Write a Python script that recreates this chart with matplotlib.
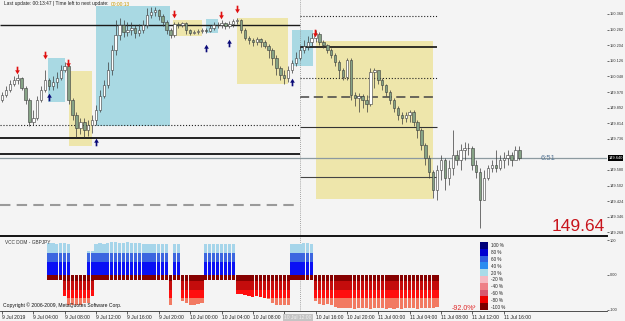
import matplotlib
matplotlib.use('Agg')
import matplotlib.pyplot as plt
import numpy as np
from matplotlib.path import Path
from matplotlib.patches import Rectangle
import matplotlib.transforms as mtrans

plt.rcParams['font.family'] = ['Liberation Sans', 'DejaVu Sans']

# ---------------- data ----------------
first_open = 149.93
close = [149.955, 149.98, 150.01, 150.03, 150.04, 149.99, 149.93, 149.82, 149.84, 149.93,
         149.98, 150.03, 150.00, 150.02, 150.04, 150.08, 150.10, 149.93, 149.855, 149.79,
         149.82, 149.78, 149.805, 149.83, 149.88, 149.95, 150.005, 150.08, 150.18, 150.255,
         150.305, 150.27, 150.28, 150.29, 150.265, 150.28, 150.305, 150.355, 150.37, 150.38,
         150.35, 150.32, 150.28, 150.255, 150.31, 150.305, 150.315, 150.28, 150.265, 150.27,
         150.275, 150.28, 150.275, 150.29, 150.305, 150.305, 150.315, 150.30, 150.31, 150.325,
         150.33, 150.28, 150.24, 150.23, 150.22, 150.235, 150.22, 150.20, 150.18, 150.14,
         150.09, 150.055, 150.04, 150.08, 150.115, 150.14, 150.18, 150.20, 150.22, 150.24,
         150.26, 150.22, 150.205, 150.18, 150.155, 150.12, 150.08, 150.045, 150.13, 149.955,
         149.94, 149.95, 149.93, 149.91, 150.07, 150.08, 150.03, 150.005, 149.97, 149.93,
         149.89, 149.855, 149.84, 149.855, 149.87, 149.82, 149.78, 149.705, 149.64, 149.57,
         149.48, 149.58, 149.63, 149.54, 149.59, 149.655, 149.63, 149.68, 149.69, 149.69,
         149.605, 149.57, 149.43, 149.54, 149.59, 149.605, 149.59, 149.63, 149.64, 149.655,
         149.63, 149.68, 149.64]
high = [149.97, 150.00, 150.03, 150.05, 150.06, 150.045, 150.00, 149.94, 149.88, 149.95,
        150.00, 150.08, 150.04, 150.05, 150.07, 150.105, 150.12, 150.11, 149.94, 149.87,
        149.84, 149.84, 149.83, 149.855, 149.905, 149.98, 150.03, 150.12, 150.205, 150.33,
        150.34, 150.33, 150.32, 150.32, 150.305, 150.31, 150.33, 150.39, 150.395, 150.395,
        150.385, 150.36, 150.33, 150.29, 150.32, 150.32, 150.32, 150.32, 150.285, 150.28,
        150.285, 150.29, 150.29, 150.305, 150.32, 150.32, 150.33, 150.32, 150.325, 150.335,
        150.34, 150.335, 150.29, 150.25, 150.24, 150.245, 150.24, 150.23, 150.21, 150.19,
        150.155, 150.10, 150.08, 150.10, 150.13, 150.17, 150.205, 150.23, 150.25, 150.265,
        150.28, 150.27, 150.23, 150.21, 150.19, 150.165, 150.13, 150.09, 150.14, 150.14,
        149.97, 149.965, 149.96, 149.955, 150.09, 150.09, 150.07, 150.04, 150.01, 149.98,
        149.94, 149.90, 149.87, 149.87, 149.88, 149.88, 149.83, 149.79, 149.715, 149.655,
        149.58, 149.605, 149.655, 149.64, 149.63, 149.78, 149.68, 149.71, 149.72, 149.715,
        149.70, 149.63, 149.59, 149.58, 149.605, 149.63, 149.68, 149.655, 149.67, 149.68,
        149.67, 149.70, 149.70]
low = [149.92, 149.945, 149.97, 150.00, 150.01, 149.98, 149.91, 149.80, 149.805, 149.83,
       149.92, 149.97, 149.98, 149.98, 149.99, 150.03, 150.07, 149.91, 149.83, 149.745,
       149.76, 149.745, 149.75, 149.765, 149.805, 149.87, 149.94, 149.99, 150.055, 150.155,
       150.23, 150.245, 150.25, 150.255, 150.24, 150.25, 150.265, 150.29, 150.34, 150.35,
       150.33, 150.30, 150.26, 150.24, 150.245, 150.29, 150.295, 150.26, 150.255, 150.26,
       150.26, 150.265, 150.265, 150.27, 150.28, 150.29, 150.29, 150.285, 150.29, 150.295,
       150.31, 150.265, 150.23, 150.21, 150.20, 150.205, 150.195, 150.19, 150.14, 150.105,
       150.055, 150.03, 150.01, 150.02, 150.065, 150.10, 150.13, 150.165, 150.18, 150.20,
       150.22, 150.205, 150.19, 150.165, 150.14, 150.10, 150.04, 150.03, 150.03, 149.93,
       149.90, 149.87, 149.89, 149.87, 149.90, 149.99, 150.01, 149.98, 149.95, 149.91,
       149.87, 149.83, 149.81, 149.82, 149.82, 149.80, 149.74, 149.68, 149.605, 149.54,
       149.44, 149.43, 149.53, 149.48, 149.505, 149.555, 149.605, 149.58, 149.63, 149.655,
       149.58, 149.54, 149.29, 149.43, 149.53, 149.57, 149.57, 149.58, 149.59, 149.605,
       149.60, 149.64, 149.63]

# indicator (per bar): buy pressure (+) and sell pressure (-) in %
ind_pos = [None, None, None, None, None, None, None, None, None, None, None, None,
           92, 92, 90, 92, 92, 88, 0, 0, 0, 0, 70, 70, 88,
           92, 90, 92, 93, 93, 92, 92, 93, 92, 92, 91, 90, 90, 90, 90, 89, 89, 88,
           0, 88, 88, 0, 0, 0, 0, 0, 0,
           90, 90, 90, 90, 89, 89, 88, 88,
           0, 0, 0, 0, 0, 0, 0, 0, 0, 0, 0, 0, 0, 0,
           88, 89, 90, 92, 92, 90,
           0, 0, 0, 0, 0, 0, 0, 0, 0, 0, 0, 0, 0, 0, 0, 0,
           0, 0, 0, 0, 0, 0, 0, 0, 0, 0, 0, 0, 0, 0, 0, 0,
           None, None, None, None, None, None, None, None, None, None, None,
           None, None, None, None, None, None, None, None, None, None]
ind_neg = [None, None, None, None, None, None, None, None, None, None, None, None,
           -15, -15, -15, -15, -60, -85, -85, -86, -85, -80, -80, -60, -15,
           -15, -15, -15, -15, -15, -15, -15, -15, -15, -15, -15, -15, -15, -15, -15, -15, -15, -15,
           -85, -15, -15, -75, -80, -85, -85, -82, -80,
           -15, -15, -15, -15, -15, -15, -15, -15,
           -55, -55, -58, -60, -62, -60, -63, -65, -70, -80, -85, -86, -85, -85,
           -15, -15, -15, -15, -15, -15,
           -75, -82, -85, -82, -85,
           -92, -93, -95, -94, -95, -96, -95, -94, -95, -96, -95, -95, -94, -96,
           -95, -96, -95, -96, -95, -94, -95, -96, -95, -95, -94, -95, -92,
           None, None, None, None, None, None, None, None, None, None, None,
           None, None, None, None, None, None, None, None, None, None]

# zones: start bar, end bar, top price, bottom price
blue_zone_start = [11.7, 24.0, 52.0, 74.0]
blue_zone_end = [16.1, 42.9, 55.1, 79.3]
blue_zone_top = [150.14, 150.40, 150.335, 150.28]
blue_zone_bottom = [149.92, 149.80, 150.265, 150.10]
yellow_zone_start = [17.1, 43.6, 60.0, 80.1]
yellow_zone_end = [23.0, 51.0, 73.0, 110.0]
yellow_zone_top = [150.075, 150.33, 150.34, 150.225]
yellow_zone_bottom = [149.70, 150.25, 150.01, 149.435]

down_arrow_bar = [3.8, 11.0, 16.8, 43.9, 55.9, 60.0, 79.8]
down_arrow_price = [150.08, 150.155, 150.115, 150.36, 150.355, 150.385, 150.265]
up_arrow_bar = [12.0, 24.0, 52.0, 57.9, 74.0]
up_arrow_price = [149.945, 149.72, 150.19, 150.215, 150.02]

left_levels = [150.305, 149.805, 149.74, 149.66, 149.405]
right_levels = [150.35, 150.195, 150.04, 149.945, 149.795, 149.545]
level_split_bar = 76
right_level_end = 111
current_price = 149.64

price_ticks = [150.360, 150.282, 150.204, 150.126, 150.048, 149.970, 149.892, 149.814,
               149.736, 149.580, 149.502, 149.424, 149.346, 149.268]
ind_ticks = [100, 0, -100]
ind_tick_labels = ['100', '0.00', '-100']
time_tick_bars = [0, 8, 16, 24, 32, 40, 48, 56, 64, 72, 80, 88, 96, 104, 112, 120, 128]
time_tick_labels = ['9 Jul 2019', '9 Jul 04:00', '9 Jul 08:00', '9 Jul 12:00', '9 Jul 16:00',
                    '9 Jul 20:00', '10 Jul 00:00', '10 Jul 04:00', '10 Jul 08:00', '10 Jul 12:00',
                    '10 Jul 16:00', '10 Jul 20:00', '11 Jul 00:00', '11 Jul 04:00',
                    '11 Jul 08:00', '11 Jul 12:00', '11 Jul 16:00']
legend_labels = ['100 %', '80 %', '60 %', '40 %', '20 %', '-20 %', '-40 %', '-60 %', '-80 %', '-100 %']
legend_colors = ['#00007a', '#0000d0', '#2f5fe0', '#2a8cf0', '#a9dbe8',
                 '#f6b8c0', '#ee7f86', '#d85870', '#ee0000', '#7a0000']

# ---------------- figure ----------------
W, H = 625, 321
BG = '#f4f4f4'
fig = plt.figure(figsize=(W / 100, H / 100), dpi=100, facecolor=BG)

def fx(px):
    return px / W

def fy(py):
    return 1 - py / H

ax = fig.add_axes([0, fy(236), fx(607), 236 / H], facecolor=BG)
ax2 = fig.add_axes([0, fy(311), fx(607), 74 / H], facecolor=BG)

n = len(close)
xs = np.arange(n)
close_a = np.array(close)
opens = np.concatenate([[first_open], close_a[:-1]])
high_a = np.array(high)
low_a = np.array(low)

xmin, xmax = -0.51, 154.35
for a in (ax, ax2):
    a.set_xlim(xmin, xmax)
    for s in ('top', 'left', 'right'):
        a.spines[s].set_visible(False)
ax.set_ylim(149.25, 150.43)
ax2.set_ylim(-102.9, 108.6)
ax.spines['bottom'].set_color('#111111')
ax.spines['bottom'].set_linewidth(1.4)
ax2.spines['bottom'].set_color('#333333')
ax2.spines['bottom'].set_linewidth(0.6)

# zones
for s, e, t, b in zip(blue_zone_start, blue_zone_end, blue_zone_top, blue_zone_bottom):
    ax.add_patch(Rectangle((s, b), e - s, t - b, facecolor='#a9d9e3', edgecolor='none', zorder=1))
for s, e, t, b in zip(yellow_zone_start, yellow_zone_end, yellow_zone_top, yellow_zone_bottom):
    ax.add_patch(Rectangle((s, b), e - s, t - b, facecolor='#eee6ab', edgecolor='none', zorder=1))

# levels
left_styles = [('-', '#1a1a1a', 1.0), (':', '#222222', 0.8), ('-', '#111111', 1.3),
               ('-', '#111111', 1.3), ((0, (5, 3)), '#9a9a9a', 1.5)]
for lv, (ls, c, lw) in zip(left_levels, left_styles):
    ax.hlines(lv, xmin, level_split_bar, colors=c, linestyles=ls, linewidth=lw, zorder=2)
right_styles = [(':', '#222222', 0.8), ('-', '#111111', 1.2), (':', '#222222', 0.8),
                ((0, (6, 3)), '#444444', 1.1), ('-', '#333333', 0.8), ('-', '#444444', 0.8)]
for lv, (ls, c, lw) in zip(right_levels, right_styles):
    ax.hlines(lv, level_split_bar, right_level_end, colors=c, linestyles=ls, linewidth=lw, zorder=2)
ax.axhline(current_price, color='#8c9aa0', lw=0.9, zorder=2)

# vertical separator
for a in (ax, ax2):
    a.axvline(level_split_bar, color='#8a8a8a', lw=0.6, ls=(0, (1, 1.5)), zorder=2)

# candles
ax.vlines(xs, low_a, high_a, colors='#3a3a3a', linewidth=0.5, zorder=3)
bull = close_a >= opens
body_b = np.minimum(opens, close_a)
body_h = np.maximum(np.abs(close_a - opens), 0.002)
ax.bar(xs[bull], body_h[bull], bottom=body_b[bull], width=0.62, color='white',
       edgecolor='#3a3a3a', linewidth=0.4, zorder=4)
ax.bar(xs[~bull], body_h[~bull], bottom=body_b[~bull], width=0.62, color='#86a386',
       edgecolor='#3a3a3a', linewidth=0.4, zorder=4)

# arrows
down_path = Path([(-0.22, 1.0), (0.22, 1.0), (0.22, 0.05), (0.62, 0.05), (0, -1.0),
                  (-0.62, 0.05), (-0.22, 0.05), (-0.22, 1.0)], closed=True)
up_path = Path([(x, -y) for x, y in down_path.vertices], closed=True)
ax.scatter(down_arrow_bar, down_arrow_price, marker=down_path, s=30, color='#e01010',
           linewidths=0, zorder=6)
ax.scatter(up_arrow_bar, up_arrow_price, marker=up_path, s=30, color='#0a0a78',
           linewidths=0, zorder=6)

# right price axis
ax.set_xticks([])
ax.yaxis.tick_right()
ax.set_yticks(price_ticks)
ax.set_yticklabels(['%.3f' % p for p in price_ticks])
ax.tick_params(axis='y', length=1.5, width=0.5, pad=0.5, labelsize=2.8, colors='#333333')
bt = mtrans.blended_transform_factory(ax.transAxes, ax.transData)
ax.text(1.002, current_price, '%.3f' % current_price, transform=bt, ha='left', va='center',
        fontsize=2.8, color='white', bbox=dict(fc='black', ec='none', pad=0.4), zorder=7)
ax.text(137.5, current_price, '6:51', ha='left', va='center', fontsize=5.5, color='#5a7896', zorder=7)

# big price label
fig.text(fx(605), fy(231), '%.2f' % current_price, ha='right', va='baseline',
         fontsize=12.5, color='#c8141c')

# header texts
t1 = fig.text(fx(4), fy(4), 'Last update: 00:13:47 | Time left to next update:', ha='left',
              va='center', fontsize=3.5, color='#222222')
fig.canvas.draw()
ext = t1.get_window_extent(renderer=fig.canvas.get_renderer())
fig.text((ext.x1 + 2) / W, fy(4), '00:00:13', ha='left', va='center', fontsize=3.5, color='#c89a00')

# indicator bars
pos = np.array(ind_pos, dtype=float)
neg = np.array(ind_neg, dtype=float)
pos_bands = [(0, 37, '#0a10f5'), (37, 63, '#3c66e0'), (63, 200, '#a6d5ea')]
for lo_, hi_, c in pos_bands:
    top = np.clip(pos, lo_, hi_)
    h = top - lo_
    m = np.isfinite(h) & (h > 0)
    ax2.bar(xs[m], h[m], bottom=lo_, width=0.82, color=c, linewidth=0, zorder=3)
neg_bands = [(0, -18, '#860000'), (-18, -42, '#c40c0c'), (-42, -66, '#ff0e0e'), (-66, -200, '#f27a62')]
for lo_, hi_, c in neg_bands:
    bot = np.clip(neg, hi_, lo_)
    h = bot - lo_
    m = np.isfinite(h) & (h < 0)
    ax2.bar(xs[m], h[m], bottom=lo_, width=0.82, color=c, linewidth=0, zorder=3)

ax2.yaxis.tick_right()
ax2.set_yticks(ind_ticks)
ax2.set_yticklabels(ind_tick_labels)
ax2.tick_params(axis='y', length=1.5, width=0.5, pad=0.5, labelsize=2.8, colors='#333333')
ax2.set_xticks(time_tick_bars)
ax2.set_xticklabels(time_tick_labels)
ax2.tick_params(axis='x', length=2, width=0.5, pad=1, labelsize=3.6, colors='#222222')
for lbl in ax2.get_xticklabels():
    lbl.set_ha('left')
# crosshair-like highlighted label
hl = ax2.get_xticklabels()[9]
hl.set_bbox(dict(fc='#c4c4c4', ec='none', pad=0.6))
hl.set_color('#f0f0f0')

fig.text(fx(5), fy(242), 'VCC DOM - GBPJPY', ha='left', va='center', fontsize=3.4, color='#333333')
fig.text(fx(3), fy(305), 'Copyright \u00a9 2006-2009, MetaQuotes Software Corp.', ha='left',
         va='center', fontsize=3.6, color='#111111')
fig.text(fx(452), fy(308), '-92.0%', ha='left', va='center', fontsize=5, color='#e02828')
fig.text(fx(473), fy(307), '\u203a', ha='left', va='center', fontsize=6, color='#e02828')

# legend colour scale
lx0, lx1, ly0, ly1 = 480, 488, 242, 310
step = (ly1 - ly0) / len(legend_colors)
for k, (lab, col) in enumerate(zip(legend_labels, legend_colors)):
    yt = ly0 + k * step
    fig.add_artist(Rectangle((fx(lx0), fy(yt + step)), fx(lx1) - fx(lx0), step / H,
                             transform=fig.transFigure, facecolor=col, edgecolor='none'))
    fig.text(fx(lx1 + 3), fy(yt + step / 2 + 0.5), lab, ha='left', va='center',
             fontsize=3.3, color='#222222')

fig.savefig('out.png', dpi=100, facecolor=BG)
